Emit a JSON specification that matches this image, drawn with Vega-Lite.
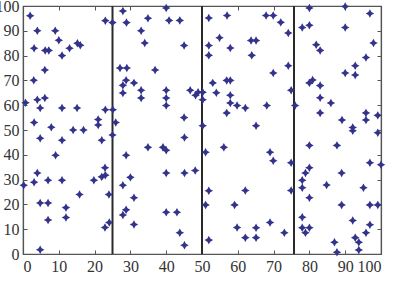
{
  "$schema": "https://vega.github.io/schema/vega-lite/v6.json",
  "width": 358,
  "height": 248,
  "autosize": {"type": "none"},
  "padding": {"left": 23, "top": 6, "right": 21, "bottom": 28},
  "background": "white",
  "config": {
    "view": {"stroke": "#555", "strokeWidth": 1.2},
    "axis": {
      "grid": false,
      "title": null,
      "domainColor": "#555",
      "domainWidth": 1.2,
      "tickColor": "#555",
      "tickSize": -4,
      "tickWidth": 1,
      "labelPadding": 8,
      "labelFont": "Liberation Serif",
      "labelFontSize": 16,
      "labelColor": "#333"
    }
  },
  "datasets": {
    "pts": [
      {"x":2.0,"y":96.1},{"x":4.0,"y":90},{"x":9.0,"y":90},{"x":3.1,"y":83},{"x":6.2,"y":82.1},{"x":7.2,"y":82.1},
      {"x":10,"y":86.2},{"x":10.9,"y":80},{"x":13,"y":83},{"x":15.2,"y":85},{"x":16,"y":84.2},{"x":6.1,"y":74.2},
      {"x":3.0,"y":70.1},{"x":0.7,"y":61},{"x":4,"y":62.2},{"x":6.1,"y":62.9},{"x":4.8,"y":58.9},{"x":10.9,"y":58.9},
      {"x":15.1,"y":58.9},{"x":3.1,"y":53},{"x":7.9,"y":51.1},{"x":14,"y":50},{"x":16.9,"y":50},{"x":21,"y":54.2},
      {"x":21,"y":52},{"x":23,"y":58.2},{"x":25.1,"y":58.2},{"x":23,"y":94.1},{"x":25,"y":93.3},{"x":4.8,"y":46.7},
      {"x":25,"y":48},{"x":27.9,"y":98},{"x":28.9,"y":93.3},{"x":27.1,"y":75},{"x":29,"y":75},{"x":28.8,"y":70.1},
      {"x":27.9,"y":68},{"x":27.9,"y":64.9},{"x":31,"y":69},{"x":25.9,"y":53},{"x":10.9,"y":45.9},{"x":22,"y":45.9},
      {"x":9.1,"y":39.8},{"x":4,"y":32.7},{"x":3.1,"y":28.9},{"x":0.2,"y":27.7},{"x":7,"y":29.7},{"x":10.9,"y":29.7},
      {"x":19.8,"y":29.7},{"x":22.9,"y":34.8},{"x":22,"y":31.1},{"x":23,"y":31.8},{"x":4.8,"y":20.6},{"x":7,"y":20.6},
      {"x":15.8,"y":24},{"x":24,"y":24},{"x":12,"y":18.7},{"x":12,"y":14.7},{"x":7,"y":13.7},{"x":22.9,"y":10.7},
      {"x":24.1,"y":12.7},{"x":4.8,"y":1.7},{"x":28.8,"y":39.8},{"x":27.9,"y":27.7},{"x":30,"y":30.9},{"x":31,"y":22.7},
      {"x":28.8,"y":17.8},{"x":27.9,"y":15.7},{"x":31,"y":11.9},
      {"x":34.9,"y":95.1},{"x":40,"y":99.2},{"x":40.8,"y":94.2},{"x":43.8,"y":94.2},{"x":33,"y":90},{"x":34,"y":85.1},
      {"x":45,"y":84.1},{"x":36.9,"y":74.2},{"x":33,"y":66},{"x":33,"y":62.9},{"x":40,"y":66},{"x":40,"y":62.9},
      {"x":40,"y":59.9},{"x":46.7,"y":66},{"x":48.2,"y":64},{"x":48.9,"y":65.2},{"x":50.2,"y":65.2},{"x":50.2,"y":62.2},
      {"x":45,"y":55},{"x":50.2,"y":51.7},{"x":45.1,"y":47},{"x":51.9,"y":95.2},{"x":57,"y":96.2},{"x":54.9,"y":87.2},
      {"x":51.9,"y":84.1},{"x":57.9,"y":83.1},{"x":51.9,"y":80.1},{"x":53,"y":69},{"x":56.9,"y":70},{"x":57.9,"y":70},
      {"x":54,"y":65},{"x":57.9,"y":64},{"x":57.9,"y":60.9},{"x":59.8,"y":59.9},{"x":56.9,"y":56.9},{"x":34.9,"y":43},
      {"x":39.1,"y":43},{"x":40,"y":41.8},{"x":51,"y":41},{"x":56.1,"y":43},{"x":40,"y":32.7},{"x":45.1,"y":32.7},
      {"x":48.1,"y":33.7},{"x":51.9,"y":25.5},{"x":51,"y":19.8},{"x":59.1,"y":19.8},{"x":40,"y":16.8},{"x":43,"y":16.8},
      {"x":43.8,"y":8.6},{"x":51.9,"y":5.6},{"x":45.1,"y":3.5},{"x":59.8,"y":10.7},
      {"x":67.9,"y":96.2},{"x":69.9,"y":96.2},{"x":72,"y":93.4},{"x":74.1,"y":89.1},{"x":63.7,"y":86.1},{"x":65.1,"y":86.1},
      {"x":63.9,"y":80.1},{"x":69.9,"y":73},{"x":74.1,"y":75.9},{"x":62.1,"y":58.9},{"x":68.1,"y":59.9},{"x":74.9,"y":66},
      {"x":76,"y":59.9},{"x":65.1,"y":51.7},{"x":80,"y":99.2},{"x":90,"y":99.8},{"x":96.9,"y":97},{"x":78,"y":91.3},
      {"x":80,"y":92.2},{"x":90,"y":91.3},{"x":81.9,"y":84.4},{"x":83,"y":82.1},{"x":97.9,"y":85.1},{"x":95.8,"y":79.2},
      {"x":92.8,"y":75.9},{"x":90,"y":73},{"x":92.8,"y":72.2},{"x":80,"y":69},{"x":80.9,"y":70.2},{"x":83,"y":67.9},
      {"x":83,"y":63},{"x":86,"y":60.9},{"x":83,"y":56.9},{"x":89.1,"y":54},{"x":92.1,"y":51},{"x":92.1,"y":49.7},
      {"x":95.8,"y":56.9},{"x":95.8,"y":54},{"x":99.1,"y":55.9},{"x":99.1,"y":48.9},{"x":69,"y":41},{"x":69.9,"y":37.6},
      {"x":74.9,"y":36.8},{"x":80,"y":43.8},{"x":87.7,"y":43.8},{"x":80,"y":34.8},{"x":78.9,"y":32.7},{"x":78,"y":29.7},
      {"x":78,"y":26.7},{"x":89,"y":32.7},{"x":84.8,"y":27.8},{"x":95.1,"y":26.7},{"x":96.9,"y":36.8},{"x":100,"y":36},
      {"x":62.1,"y":25.6},{"x":74.9,"y":25.6},{"x":80,"y":22.7},{"x":89,"y":19.8},{"x":96.9,"y":19.8},{"x":99.1,"y":19.8},
      {"x":78,"y":14.8},{"x":65.1,"y":10.6},{"x":69,"y":12.7},{"x":73,"y":8.6},{"x":78,"y":10.6},{"x":80,"y":10.6},
      {"x":78.9,"y":8.6},{"x":62.1,"y":6.6},{"x":65.1,"y":6.6},{"x":92.1,"y":13.5},{"x":96.9,"y":11.8},{"x":95.8,"y":8.6},
      {"x":92.8,"y":6.6},{"x":93.8,"y":4.7},{"x":87,"y":4.7},{"x":87.7,"y":0.7},{"x":93.8,"y":1.6}
    ],
    "lines": [{"x": 25}, {"x": 50}, {"x": 75.7}]
  },
  "layer": [
    {
      "data": {"name": "lines"},
      "mark": {"type": "rule", "color": "#2a2a2a", "strokeWidth": 2},
      "encoding": {
        "x": {"field": "x", "type": "quantitative", "scale": {"domain": [0, 100], "nice": false},
              "axis": {"orient": "top", "labels": false, "values": [0,10,20,30,40,50,60,70,80,90,100]}}
      }
    },
    {
      "data": {"name": "pts"},
      "mark": {"type": "point", "shape": "M0,-1L0.36,-0.36L1,0L0.36,0.36L0,1L-0.36,0.36L-1,0L-0.36,-0.36Z", "filled": true, "size": 72, "color": "#33338c", "opacity": 1},
      "encoding": {
        "x": {"field": "x", "type": "quantitative", "scale": {"domain": [0, 100], "nice": false},
              "axis": {"orient": "bottom", "values": [0,10,20,30,40,50,60,70,80,90,100]}},
        "y": {"field": "y", "type": "quantitative", "scale": {"domain": [0, 100], "nice": false},
              "axis": {"orient": "left", "values": [0,10,20,30,40,50,60,70,80,90,100]}}
      }
    },
    {
      "data": {"name": "pts"},
      "mark": {"type": "point", "opacity": 0},
      "encoding": {
        "y": {"field": "y", "type": "quantitative", "scale": {"domain": [0, 100], "nice": false},
              "axis": {"orient": "right", "labels": false, "values": [0,10,20,30,40,50,60,70,80,90,100]}}
      }
    }
  ],
  "resolve": {"axis": {"x": "independent", "y": "independent"}}
}
